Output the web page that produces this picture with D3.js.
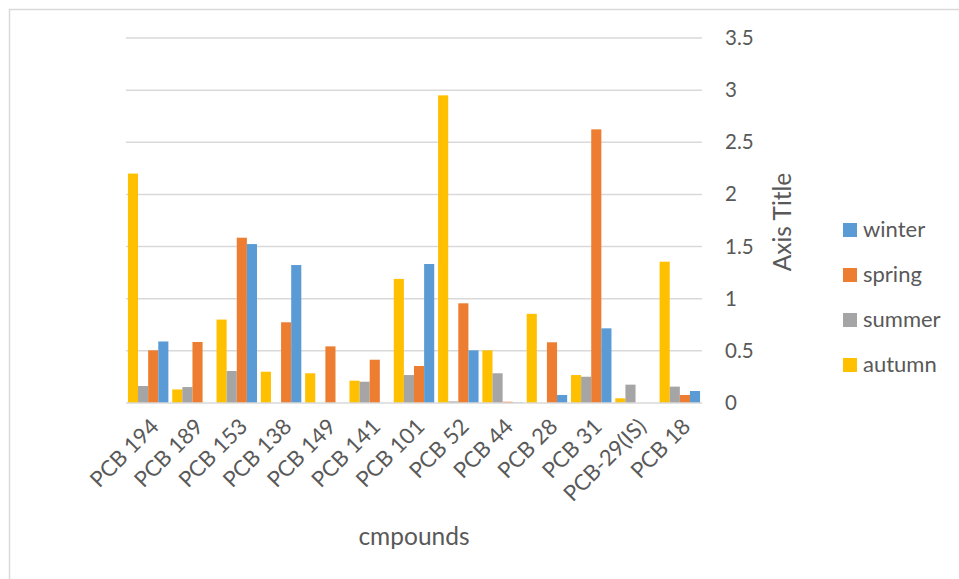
<!DOCTYPE html>
<html>
<head>
<meta charset="utf-8">
<script src="https://cdn.jsdelivr.net/npm/d3@7"></script>
<style>
  html, body { margin: 0; padding: 0; background: #fff; }
  svg { display: block; }
  text { font-family: Lato, "Open Sans", sans-serif; fill: #595959; }
</style>
</head>
<body>
<svg id="chart" width="959" height="579"></svg>
<script>
// PCB congener concentrations by season
const categories = ["PCB 194", "PCB 189", "PCB 153", "PCB 138", "PCB 149", "PCB 141",
  "PCB 101", "PCB 52", "PCB 44", "PCB 28", "PCB 31", "PCB-29(IS)", "PCB 18"];
const autumn = [2.2, 0.13, 0.8, 0.3, 0.285, 0.214, 1.19, 2.95, 0.505, 0.855, 0.268, 0.045, 1.355];
const summer = [0.163, 0.153, 0.307, 0, 0, 0.204, 0.268, 0.015, 0.285, 0, 0.252, 0.176, 0.157];
const spring = [0.505, 0.585, 1.585, 0.774, 0.543, 0.415, 0.355, 0.956, 0.012, 0.582, 2.624, 0, 0.077];
const winter = [0.59, 0, 1.524, 1.323, 0, 0, 1.333, 0.505, 0.005, 0.077, 0.716, 0, 0.115];
const yTicks = [0, 0.5, 1, 1.5, 2, 2.5, 3, 3.5];

// drawing order within each group (left to right)
const seriesNames = ["autumn", "summer", "spring", "winter"];
const seriesData = { autumn, summer, spring, winter };
const colors = { winter: "#5b9bd5", spring: "#ed7d31", summer: "#a5a5a5", autumn: "#ffc000" };
const legendOrder = ["winter", "spring", "summer", "autumn"];

const svg = d3.select("#chart");

// outer chart frame
svg.append("rect")
  .attr("x", 9.5).attr("y", 9.5)
  .attr("width", 1000).attr("height", 1000)
  .attr("fill", "none").attr("stroke", "#d9d9d9").attr("stroke-width", 1.5);

const plot = { left: 126, right: 702, top: 38, bottom: 403 };

const x0 = d3.scaleBand().domain(categories).range([plot.left, plot.right]).paddingInner(0).paddingOuter(0);
const x1 = d3.scaleBand().domain(seriesNames).range([0, x0.bandwidth()]).paddingInner(0).paddingOuter(0.19);
const y = d3.scaleLinear().domain([0, 3.5]).range([plot.bottom, plot.top]);

// horizontal gridlines
svg.append("g")
  .selectAll("line")
  .data(yTicks.filter(t => t > 0))
  .join("line")
  .attr("x1", plot.left).attr("x2", plot.right)
  .attr("y1", d => y(d)).attr("y2", d => y(d))
  .attr("stroke", "#d9d9d9").attr("stroke-width", 1.5);

// bars
const groups = svg.append("g")
  .selectAll("g")
  .data(categories)
  .join("g")
  .attr("transform", d => `translate(${x0(d)},0)`);

groups.selectAll("rect")
  .data((c, i) => seriesNames.map(s => ({ s, v: seriesData[s][i] })))
  .join("rect")
  .attr("x", d => x1(d.s))
  .attr("width", x1.bandwidth())
  .attr("y", d => y(d.v))
  .attr("height", d => y(0) - y(d.v))
  .attr("fill", d => colors[d.s]);

// category axis line
svg.append("line")
  .attr("x1", plot.left).attr("x2", plot.right)
  .attr("y1", y(0)).attr("y2", y(0))
  .attr("stroke", "#d9d9d9").attr("stroke-width", 1.5);

// right value axis
const yAxis = d3.axisRight(y).tickValues(yTicks).tickSize(0).tickPadding(0).tickFormat(d3.format("~g"));
const yg = svg.append("g").attr("transform", `translate(725,0)`).call(yAxis);
yg.select(".domain").remove();
yg.selectAll("text")
  .style("font-size", "20.5px")
  .style("font-family", "Lato, 'Open Sans', sans-serif")
  .attr("fill", "#595959");

// category labels, rotated
const xAxis = d3.axisBottom(x0).tickSize(0).tickPadding(0);
const xg = svg.append("g").attr("transform", `translate(0,${plot.bottom})`).call(xAxis);
xg.select(".domain").remove();
xg.selectAll("text")
  .style("font-size", "22px")
  .style("font-family", "Lato, 'Open Sans', sans-serif")
  .attr("fill", "#595959")
  .attr("text-anchor", "end")
  .attr("dy", 0)
  .attr("transform", "translate(12,25) rotate(-45)");

// axis titles
svg.append("text")
  .attr("x", 414).attr("y", 545)
  .attr("text-anchor", "middle")
  .style("font-size", "24.5px")
  .text("cmpounds");

svg.append("text")
  .attr("transform", "translate(791,222) rotate(-90)")
  .attr("text-anchor", "middle")
  .style("font-size", "24.5px")
  .text("Axis Title");

// legend
const legend = svg.append("g")
  .selectAll("g")
  .data(legendOrder)
  .join("g")
  .attr("transform", (d, i) => `translate(843,${223 + i * 45})`);

legend.append("rect")
  .attr("width", 14).attr("height", 14)
  .attr("fill", d => colors[d]);

legend.append("text")
  .attr("x", 20).attr("y", 14)
  .style("font-size", "22px")
  .text(d => d);
</script>
</body>
</html>
